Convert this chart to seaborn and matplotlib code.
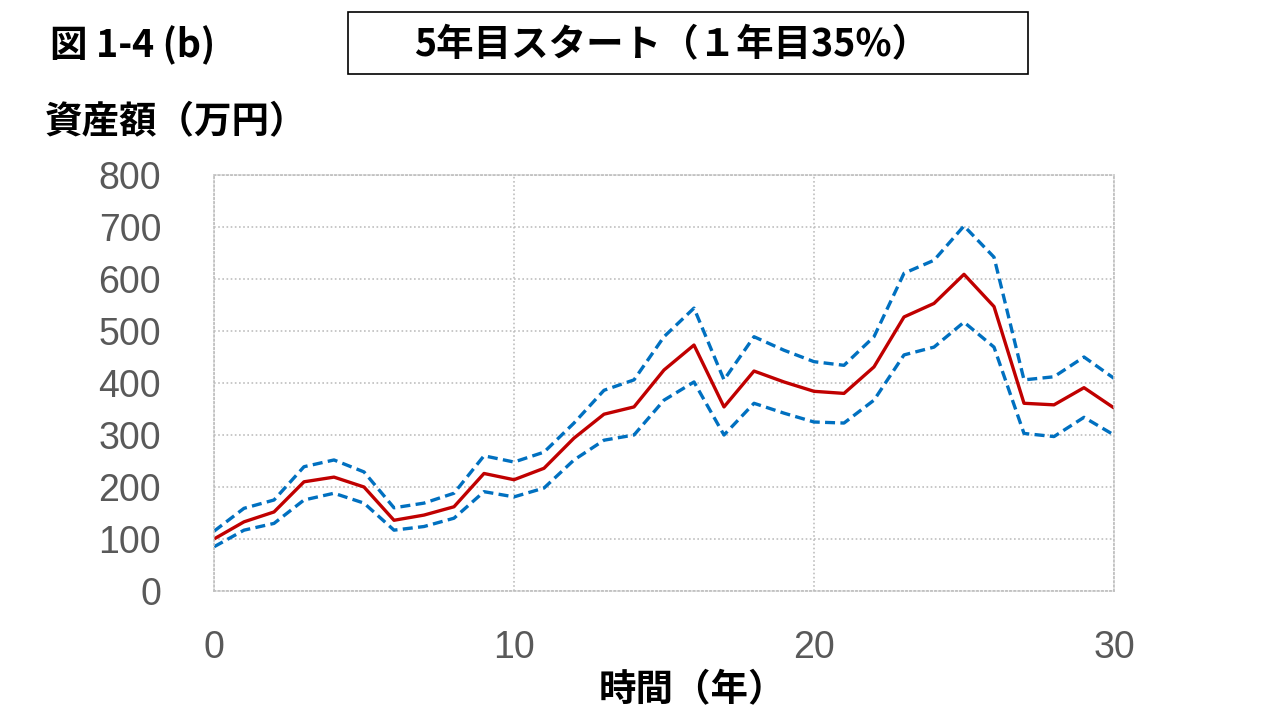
import matplotlib
matplotlib.use("Agg")
import matplotlib.pyplot as plt
import seaborn as sns
import pandas as pd
from matplotlib.patches import Rectangle

years = list(range(0, 31))
median = [100, 133, 152, 210, 219, 200, 136, 146, 162, 226, 214,
          236, 294, 340, 354, 425, 473, 354, 423, 402, 384,
          380, 431, 527, 553, 609, 547, 361, 358, 391, 352]
upper = [115, 159, 175, 239, 252, 229, 160, 169, 188, 260, 248,
         267, 323, 386, 406, 489, 544, 406, 489, 463, 441,
         434, 489, 611, 636, 702, 642, 406, 412, 450, 409]
lower = [85, 117, 130, 175, 188, 169, 117, 124, 140, 191, 181,
         198, 252, 290, 300, 367, 402, 300, 361, 342, 325,
         323, 367, 454, 469, 517, 469, 303, 297, 334, 300]
y_ticks = [0, 100, 200, 300, 400, 500, 600, 700, 800]
x_ticks = [0, 10, 20, 30]

sns.set_theme(style="white")
plt.rcParams['font.family'] = ['Noto Sans CJK JP', 'DejaVu Sans']

fig = plt.figure(figsize=(12.8, 7.2), dpi=100)
ax = fig.add_axes([214/1280, 1-591/720, 900/1280, 416/720])

df = pd.DataFrame({"year": years, "median": median, "upper": upper, "lower": lower})
kw = dict(solid_joinstyle="round", dash_joinstyle="round", dash_capstyle="butt")
sns.lineplot(data=df, x="year", y="upper", ax=ax, color="#0070C0", lw=2.4,
             linestyle=(0, (3, 1.6)), **kw)
sns.lineplot(data=df, x="year", y="lower", ax=ax, color="#0070C0", lw=2.4,
             linestyle=(0, (3, 1.6)), **kw)
sns.lineplot(data=df, x="year", y="median", ax=ax, color="#C00000", lw=2.4, **kw)

ax.set_xlim(0, 30)
ax.set_ylim(0, 800)
ax.set_xticks(x_ticks)
ax.set_yticks(y_ticks)
ax.grid(True, color="#BFBFBF", linestyle=(0, (1, 1.5)), lw=1.2)
for s in ax.spines.values():
    s.set_color("#BFBFBF")
    s.set_linestyle((0, (1, 1.5)))
    s.set_linewidth(1.2)
ax.set_xlabel("")
ax.set_ylabel("")
ax.tick_params(axis="both", length=0, colors="#595959", labelsize=27)
ax.tick_params(axis="x", pad=28)
ax.tick_params(axis="y", pad=38)
for lab in ax.get_xticklabels() + ax.get_yticklabels():
    lab.set_family(["Liberation Sans", "DejaVu Sans"])

fig.text(50/1280, 1-45/720, "図 1-4 (b)", fontsize=27, fontweight="bold",
         ha="left", va="center", color="black")
fig.patches.append(Rectangle((348/1280, 1-74/720), 680/1280, 62/720,
                             transform=fig.transFigure, fill=False,
                             edgecolor="black", lw=1.2))
fig.text(672/1280, 1-45/720, "5年目スタート（１年目35%）", fontsize=27,
         fontweight="bold", ha="center", va="center", color="black")
fig.text(45/1280, 1-122/720, "資産額（万円）", fontsize=27, fontweight="bold",
         ha="left", va="center", color="black")
fig.text(692/1280, 1-690/720, "時間（年）", fontsize=27, fontweight="bold",
         ha="center", va="center", color="black")

fig.savefig("out.png", dpi=100)
